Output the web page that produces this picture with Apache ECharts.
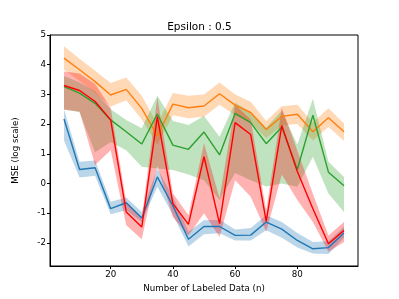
<!DOCTYPE html>
<html>
<head>
<meta charset="utf-8">
<script src="https://cdn.jsdelivr.net/npm/echarts@6/dist/echarts.min.js"></script>
<style>html,body{margin:0;padding:0;background:#fff}#c{width:399px;height:299px}</style>
</head>
<body>
<div id="c"></div>
<script>
const nValues = [5,10,15,20,25,30,35,40,45,50,55,60,65,70,75,80,85,90,95];
const xTicks = [20,40,60,80];
const yTicks = [-2,-1,0,1,2,3,4,5];

const blue   = [2.17,0.47,0.53,-0.85,-0.65,-1.16,0.22,-0.75,-1.88,-1.45,-1.45,-1.75,-1.74,-1.3,-1.54,-1.92,-2.2,-2.16,-1.67];
const blueUp = [2.5,0.73,0.77,-0.62,-0.47,-0.96,0.5,-0.45,-1.63,-1.24,-1.22,-1.55,-1.5,-1.07,-1.3,-1.67,-1.97,-1.95,-1.46];
const blueLo = [1.45,0.2,0.26,-1.04,-0.9,-1.3,-0.11,-1.05,-2.12,-1.71,-1.68,-1.92,-1.92,-1.58,-1.83,-2.16,-2.36,-2.38,-1.83];

const orange   = [4.22,3.83,3.43,2.98,3.17,2.53,1.6,2.67,2.55,2.61,3.02,2.64,2.39,1.82,2.26,2.33,1.74,2.21,1.74];
const orangeUp = [4.62,4.2,3.8,3.38,3.57,2.95,2.0,3.05,2.95,3.0,3.4,3.0,2.75,2.1,2.6,2.65,2.05,2.53,2.02];
const orangeLo = [3.83,3.45,3.05,2.59,2.8,2.15,1.3,2.3,2.2,2.25,2.65,2.3,2.05,1.52,1.95,2.0,1.45,1.9,1.44];

const green   = [3.26,3.04,2.7,2.14,1.74,1.33,2.34,1.29,1.15,1.73,0.96,2.36,2.05,1.34,1.9,0.47,2.3,0.38,-0.08];
const greenUp = [3.62,3.4,3.1,2.5,2.14,1.86,2.95,2.1,1.97,2.27,1.57,2.72,2.4,1.88,2.45,1.3,2.85,0.73,0.22];
const greenLo = [2.5,2.4,1.05,1.4,1.12,0.56,0.5,0.45,0.3,0.11,-0.56,0.35,0.11,-0.1,0.0,-0.11,0.9,-0.34,-0.96];

const red   = [3.3,3.13,2.76,2.14,-0.96,-1.47,2.25,-0.68,-1.38,0.9,-1.35,2.05,1.65,-1.28,1.95,0.4,-0.85,-2.03,-1.58];
const redUp = [3.77,3.7,3.35,2.55,-0.62,-1.15,2.9,-0.33,-1.07,1.35,-0.5,2.65,2.15,-0.9,2.55,1.1,-0.35,-1.75,-1.3];
const redLo = [2.48,2.42,0.62,1.12,-1.41,-1.88,0.6,-1.13,-1.75,-1.0,-1.8,0.11,-0.45,-1.63,0.3,-0.56,-1.3,-2.3,-1.97];

const groups = [
  {name:'blue', color:'#1f77b4', mean:blue, up:blueUp, lo:blueLo},
  {name:'orange', color:'#ff7f0e', mean:orange, up:orangeUp, lo:orangeLo},
  {name:'green', color:'#2ca02c', mean:green, up:greenUp, lo:greenLo},
  {name:'red', color:'#ff0000', mean:red, up:redUp, lo:redLo}
];

const series = [];
groups.forEach(g => {
  series.push({
    type:'line', name:g.name, data:nValues.map((n,i)=>[n,g.mean[i]]),
    symbol:'none', lineStyle:{color:g.color, width:1.4}, itemStyle:{color:g.color},
    silent:true, animation:false
  });
  series.push({
    type:'custom', name:g.name+'_band', silent:true, animation:false,
    data:[[nValues[0], g.lo[0], g.up[0]]],
    renderItem:function(params, api){
      const pts = [];
      for (let i=0;i<nValues.length;i++) pts.push(api.coord([nValues[i], g.up[i]]));
      for (let i=nValues.length-1;i>=0;i--) pts.push(api.coord([nValues[i], g.lo[i]]));
      return {type:'polygon', shape:{points:pts}, style:{fill:g.color, opacity:0.3, stroke:null}};
    }
  });
});

const font = 'DejaVu Sans';
const chart = echarts.init(document.getElementById('c'), null, {renderer:'canvas'});
chart.setOption({
  backgroundColor:'#fff',
  animation:false,
  title:{text:'Epsilon : 0.5', left:'center', top:17, textStyle:{fontFamily:font, fontSize:10.5, fontWeight:'normal', color:'#000'}},
  grid:{left:50, right:41, top:35, bottom:33, show:true, borderColor:'#000', borderWidth:1, backgroundColor:'transparent'},
  xAxis:{
    type:'value', min:0.5, max:99.5,
    name:'Number of Labeled Data (n)', nameLocation:'middle', nameGap:18,
    nameTextStyle:{fontFamily:font, fontSize:8.7, color:'#000'},
    axisLine:{show:true, onZero:false, lineStyle:{color:'#000', width:1}},
    axisTick:{show:true, length:3, customValues:xTicks, lineStyle:{color:'#000'}},
    axisLabel:{customValues:xTicks, fontFamily:font, fontSize:8.7, color:'#000', margin:4},
    splitLine:{show:false}
  },
  yAxis:{
    type:'value', min:-2.78, max:5,
    name:'MSE (log scale)', nameLocation:'middle', nameGap:30,
    nameTextStyle:{fontFamily:font, fontSize:8.7, color:'#000'},
    axisLine:{show:true, onZero:false, lineStyle:{color:'#000', width:1}},
    axisTick:{show:true, length:3, customValues:yTicks, lineStyle:{color:'#000'}},
    axisLabel:{customValues:yTicks, fontFamily:font, fontSize:8.7, color:'#000', margin:4},
    splitLine:{show:false}
  },
  series:series
});
</script>
</body>
</html>
